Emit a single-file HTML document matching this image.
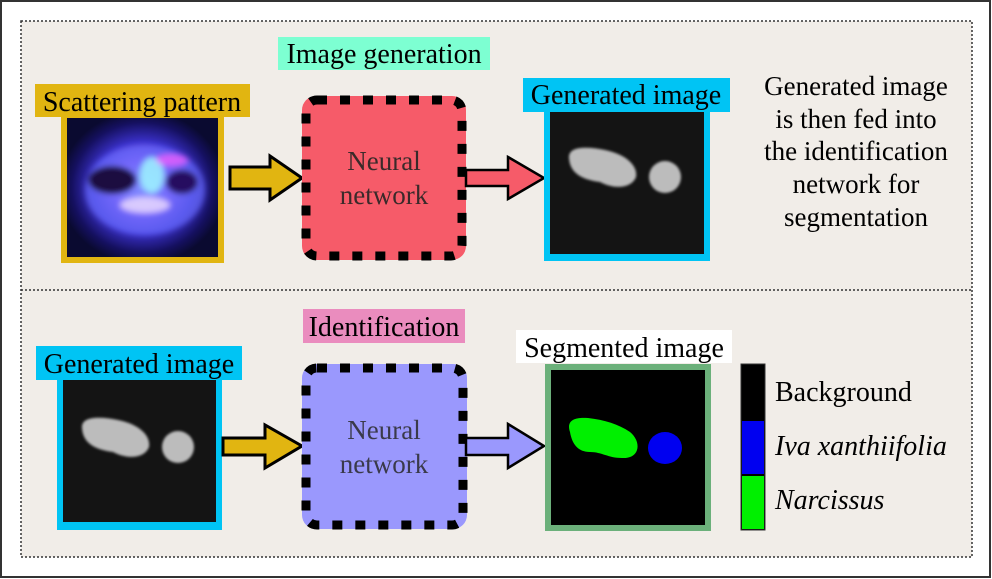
<!DOCTYPE html>
<html><head><meta charset="utf-8"><style>
html,body{margin:0;padding:0;background:#fff}
svg{display:block}
svg text{font-family:"Liberation Serif","Times New Roman","Noto Serif CJK SC",serif;fill:#000}
</style></head><body>
<svg width="992" height="579" viewBox="0 0 992 579" xmlns="http://www.w3.org/2000/svg">
<defs>
<radialGradient id="sc" cx="0.5" cy="0.5" r="0.55">
<stop offset="0" stop-color="#b8d8ff"/>
<stop offset="0.35" stop-color="#8a5cf0"/>
<stop offset="0.6" stop-color="#3a30c8"/>
<stop offset="0.85" stop-color="#151060"/>
<stop offset="1" stop-color="#0a0a30"/>
</radialGradient>
<filter id="bl"><feGaussianBlur stdDeviation="3"/></filter>
<filter id="bl2"><feGaussianBlur stdDeviation="1.2"/></filter>
</defs>
<rect x="0" y="0" width="992" height="579" fill="#fff"/>
<rect x="1" y="1" width="989" height="576" fill="#fff" stroke="#333" stroke-width="2"/>
<rect x="21" y="21" width="951" height="536" fill="#f1ede8" stroke="#333" stroke-width="1.5" stroke-dasharray="2 2"/>
<line x1="21" y1="290" x2="972" y2="290" stroke="#333" stroke-width="1.5" stroke-dasharray="2 2"/>

<rect x="278" y="37" width="212" height="33" fill="#7dffd2"/>
<text x="384" y="63" font-size="28" text-anchor="middle">Image generation</text>

<rect x="35" y="84" width="215" height="33" fill="#e1b511"/>
<text x="142" y="111" font-size="28" text-anchor="middle">Scattering pattern</text>
<rect x="61" y="117" width="163" height="146" fill="#e1b511"/>
<rect x="67" y="118" width="151" height="139" fill="url(#sc)"/>
<g filter="url(#bl)">
<ellipse cx="145" cy="190" rx="60" ry="45" fill="#6a6cff" opacity="0.7"/>
<ellipse cx="112" cy="180" rx="24" ry="14" fill="#1a1040"/>
<ellipse cx="182" cy="182" rx="16" ry="12" fill="#251060"/>
<ellipse cx="152" cy="175" rx="12" ry="18" fill="#a0ffff" opacity="0.8"/>
<ellipse cx="145" cy="205" rx="25" ry="8" fill="#f0e0ff" opacity="0.8"/>
<ellipse cx="172" cy="160" rx="16" ry="6" fill="#ff60ff" opacity="0.7"/>
</g>

<path d="M230,167 H270 V156 L302,178 L270,200 V189 H230 Z" fill="#e1b511" stroke="#000" stroke-width="3"/>

<rect x="302" y="96" width="164" height="164" rx="14" fill="#f65b69"/>
<rect x="306" y="100" width="156" height="156" rx="11" fill="none" stroke="#000" stroke-width="9" stroke-dasharray="10 13"/>
<text x="384" y="170" font-size="27" text-anchor="middle" style="fill:#3a2a2a">Neural</text>
<text x="384" y="204" font-size="27" text-anchor="middle" style="fill:#3a2a2a">network</text>

<path d="M466,170 H508 V157 L544,178 L508,199 V186 H466 Z" fill="#f65b69" stroke="#000" stroke-width="2.5"/>

<rect x="523" y="78" width="207" height="34" fill="#00c4f4"/>
<text x="626" y="104" font-size="28" text-anchor="middle">Generated image</text>
<rect x="544" y="111" width="166" height="150" fill="#00c4f4"/>
<rect x="550" y="112" width="154" height="142" fill="#141414"/>
<g filter="url(#bl2)">
<path d="M569,158 C568,145 590,147 605,150 C625,154 638,165 636,177 C632,188 615,190 600,182 C585,180 570,175 569,158 Z" fill="#bcbcbc"/>
<ellipse cx="665" cy="177" rx="16" ry="16" fill="#bcbcbc"/>
</g>

<g font-size="27" text-anchor="middle">
<text x="856" y="95">Generated image</text>
<text x="856" y="128">is then fed into</text>
<text x="856" y="160">the identification</text>
<text x="856" y="193">network for</text>
<text x="856" y="226">segmentation</text>
</g>

<rect x="303" y="309" width="162" height="34" fill="#ea8cbe"/>
<text x="384" y="336" font-size="28" text-anchor="middle">Identification</text>

<rect x="36" y="346" width="206" height="34" fill="#00c4f4"/>
<text x="139" y="373" font-size="28" text-anchor="middle">Generated image</text>
<rect x="57" y="380" width="165" height="150" fill="#00c4f4"/>
<rect x="63" y="380" width="153" height="142" fill="#141414"/>
<g filter="url(#bl2)">
<path d="M82,428 C81,415 103,417 118,420 C138,424 151,435 149,447 C145,458 128,460 113,452 C98,450 83,445 82,428 Z" fill="#bcbcbc"/>
<ellipse cx="178" cy="447" rx="16" ry="16" fill="#bcbcbc"/>
</g>

<path d="M223,438 H265 V425 L302,446 L265,468 V455 H223 Z" fill="#e1b511" stroke="#000" stroke-width="3"/>

<rect x="302" y="364" width="165" height="165" rx="14" fill="#9a98fd"/>
<rect x="306" y="368" width="157" height="157" rx="11" fill="none" stroke="#000" stroke-width="9" stroke-dasharray="10 13"/>
<text x="384" y="439" font-size="27" text-anchor="middle" style="fill:#3a3a4a">Neural</text>
<text x="384" y="473" font-size="27" text-anchor="middle" style="fill:#3a3a4a">network</text>

<path d="M466,438 H508 V424 L544,446 L508,468 V455 H466 Z" fill="#9a98fd" stroke="#000" stroke-width="2.5"/>

<rect x="516" y="330" width="216" height="33" fill="#fff"/>
<text x="624" y="357" font-size="28" text-anchor="middle">Segmented image</text>
<rect x="545" y="364" width="166" height="167" fill="#6bb07a"/>
<rect x="551" y="370" width="154" height="155" fill="#000"/>
<path d="M570,432 C566,420 575,417 588,418 C605,420 618,424 630,432 C642,442 640,459 622,458 C608,458 602,452 590,452 C578,452 572,444 570,432 Z" fill="#00f000"/>
<ellipse cx="665" cy="448" rx="17" ry="16" fill="#0000f0"/>

<rect x="741" y="364" width="24" height="166" fill="#000" stroke="#333" stroke-width="1"/>
<rect x="742" y="421" width="22" height="53" fill="#0000f0"/>
<rect x="742" y="476" width="22" height="53" fill="#00f000"/>
<text x="775" y="401" font-size="28">Background</text>
<text x="775" y="455" font-size="28" font-style="italic">Iva xanthiifolia</text>
<text x="775" y="509" font-size="28" font-style="italic">Narcissus</text>
</svg>
</body></html>
